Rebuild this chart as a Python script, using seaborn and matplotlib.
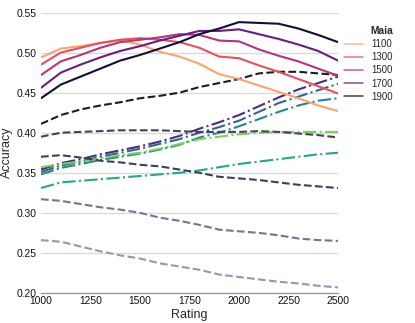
import numpy as np
import pandas as pd
import matplotlib
matplotlib.use("Agg")
import matplotlib.pyplot as plt
from matplotlib.lines import Line2D
import seaborn as sns

# Ratings on the x axis
ratings = list(range(1000, 2600, 100))

# Maia models (solid lines)
maia_1100 = [0.494, 0.505, 0.508, 0.512, 0.515, 0.510, 0.501, 0.495, 0.486, 0.473,
             0.467, 0.459, 0.451, 0.443, 0.434, 0.427]
maia_1300 = [0.485, 0.500, 0.506, 0.512, 0.516, 0.518, 0.516, 0.513, 0.506, 0.495,
             0.493, 0.484, 0.476, 0.467, 0.458, 0.449]
maia_1500 = [0.472, 0.489, 0.497, 0.506, 0.513, 0.516, 0.519, 0.523, 0.522, 0.515,
             0.514, 0.504, 0.496, 0.489, 0.480, 0.471]
maia_1700 = [0.456, 0.475, 0.485, 0.494, 0.502, 0.508, 0.515, 0.521, 0.527, 0.527,
             0.529, 0.523, 0.517, 0.510, 0.502, 0.490]
maia_1900 = [0.443, 0.460, 0.470, 0.480, 0.490, 0.497, 0.505, 0.513, 0.523, 0.530,
             0.538, 0.537, 0.536, 0.530, 0.522, 0.513]

# Leela models (dash-dot lines)
leela_a = [0.354, 0.362, 0.367, 0.373, 0.378, 0.383, 0.389, 0.396, 0.405, 0.413,
           0.422, 0.433, 0.444, 0.454, 0.462, 0.470]
leela_b = [0.351, 0.359, 0.364, 0.370, 0.375, 0.380, 0.386, 0.392, 0.400, 0.407,
           0.415, 0.426, 0.437, 0.445, 0.453, 0.461]
leela_c = [0.348, 0.356, 0.361, 0.366, 0.370, 0.374, 0.379, 0.385, 0.394, 0.400,
           0.408, 0.417, 0.426, 0.434, 0.440, 0.443]
leela_d = [0.357, 0.361, 0.364, 0.368, 0.372, 0.375, 0.380, 0.386, 0.392, 0.395,
           0.398, 0.400, 0.401, 0.401, 0.401, 0.401]
leela_e = [0.331, 0.338, 0.340, 0.342, 0.344, 0.346, 0.348, 0.350, 0.353, 0.357,
           0.361, 0.364, 0.367, 0.370, 0.373, 0.375]

# Stockfish models (dashed lines)
sf_a = [0.411, 0.422, 0.429, 0.434, 0.438, 0.443, 0.446, 0.450, 0.457, 0.462,
        0.467, 0.474, 0.476, 0.476, 0.474, 0.472]
sf_b = [0.395, 0.400, 0.401, 0.402, 0.403, 0.403, 0.403, 0.402, 0.401, 0.401,
        0.401, 0.402, 0.401, 0.399, 0.397, 0.394]
sf_c = [0.370, 0.372, 0.369, 0.365, 0.363, 0.360, 0.358, 0.354, 0.350, 0.345,
        0.343, 0.341, 0.338, 0.335, 0.333, 0.331]
sf_d = [0.317, 0.315, 0.311, 0.307, 0.304, 0.300, 0.294, 0.290, 0.285, 0.279,
        0.277, 0.275, 0.272, 0.268, 0.266, 0.265]
sf_e = [0.266, 0.264, 0.258, 0.252, 0.247, 0.243, 0.237, 0.233, 0.229, 0.223,
        0.220, 0.217, 0.214, 0.212, 0.209, 0.207]

maia_labels = ["1100", "1300", "1500", "1700", "1900"]
maia_colors = ["#fca36f", "#e8505f", "#b3357a", "#6a1d82", "#140e36"]
leela_colors = ["#472d7b", "#31668e", "#24878e", "#7ad151", "#22a884"]
sf_colors = ["#1c1c24", "#42425c", "#3d3f5e", "#6c7a91", "#8c9cae"]

series = {
    ("Maia", "1100"): maia_1100, ("Maia", "1300"): maia_1300,
    ("Maia", "1500"): maia_1500, ("Maia", "1700"): maia_1700,
    ("Maia", "1900"): maia_1900,
    ("Leela", "a"): leela_a, ("Leela", "b"): leela_b, ("Leela", "c"): leela_c,
    ("Leela", "d"): leela_d, ("Leela", "e"): leela_e,
    ("Stockfish", "a"): sf_a, ("Stockfish", "b"): sf_b, ("Stockfish", "c"): sf_c,
    ("Stockfish", "d"): sf_d, ("Stockfish", "e"): sf_e,
}

rows = []
for (fam, name), vals in series.items():
    for r, v in zip(ratings, vals):
        rows.append(dict(Rating=r, Accuracy=v, family=fam, model=f"{fam} {name}"))
df = pd.DataFrame(rows)

palette = {}
for lab, c in zip(maia_labels, maia_colors):
    palette[f"Maia {lab}"] = c
for lab, c in zip("abcde", leela_colors):
    palette[f"Leela {lab}"] = c
for lab, c in zip("abcde", sf_colors):
    palette[f"Stockfish {lab}"] = c

sns.set_theme(style="white")
plt.rcParams['font.family'] = ['Liberation Sans', 'DejaVu Sans']

fig = plt.figure(figsize=(4.15, 3.23), dpi=100)
ax = fig.add_axes([41 / 415, 1 - 293 / 323, 297 / 415, 280.5 / 323])

# draw the non-Maia lines first so Maia sits on top
order = [m for m in palette if not m.startswith("Maia")] + [m for m in palette if m.startswith("Maia")]
for m in order:
    sub = df[df.model == m]
    fam = sub.family.iloc[0]
    ls = {"Maia": "-", "Leela": (0, (6.4, 1.6, 1.0, 1.6)), "Stockfish": (0, (3.7, 1.6))}[fam]
    sns.lineplot(data=sub, x="Rating", y="Accuracy", color=palette[m],
                 linestyle=ls, linewidth=1.5, ax=ax, legend=False)

ax.set_xlim(1000, 2500)
ax.set_ylim(0.20, 0.55)
ax.set_xticks(range(1000, 2501, 250))
ax.set_yticks(np.arange(0.20, 0.551, 0.05))
ax.set_yticklabels([f"{t:.2f}" for t in np.arange(0.20, 0.551, 0.05)])
ax.yaxis.grid(True, color="#d8d8d8", linewidth=0.9)
ax.xaxis.grid(False)
ax.set_axisbelow(True)
for s in ["top", "right", "left"]:
    ax.spines[s].set_visible(False)
ax.spines["bottom"].set_color("#9a9a9a")
ax.spines["bottom"].set_linewidth(1.0)
ax.tick_params(axis="both", length=0, labelsize=7.4, colors="#111111")
ax.tick_params(axis="y", pad=3.5)
ax.tick_params(axis="x", pad=2.5)
ax.set_xlabel("Rating", fontsize=9, labelpad=1.5)
ax.set_ylabel("Accuracy", fontsize=9, labelpad=2)

# legend: bold "Maia" subtitle entry followed by the solid lines
handles = [Line2D([], [], linestyle="none")]
labels = ["Maia"]
for lab, c in zip(maia_labels, maia_colors):
    handles.append(Line2D([], [], color=c, linewidth=1.1, alpha=0.8))
    labels.append(lab)
leg = fig.legend(handles, labels, loc="upper left", bbox_to_anchor=(344 / 415, 1 - 26 / 323),
                 frameon=False, fontsize=6.9, handlelength=2.0, handletextpad=0.8,
                 labelspacing=0.33, borderpad=0, borderaxespad=0)
leg.get_texts()[0].set_fontweight("bold")
leg.get_texts()[0].set_fontsize(7.4)

fig.savefig("out.png", dpi=100)
